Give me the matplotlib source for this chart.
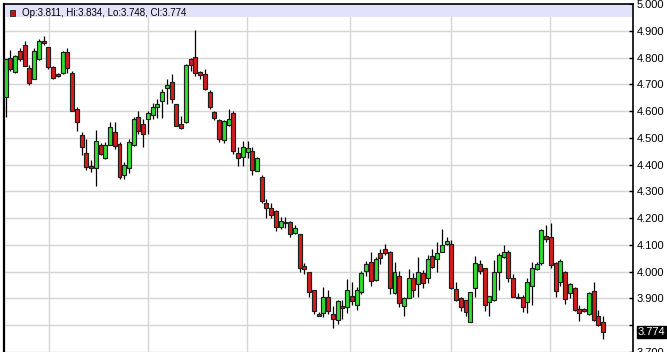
import matplotlib
matplotlib.use("Agg")
import matplotlib.pyplot as plt
import matplotlib.transforms as mtransforms
from matplotlib.patches import Rectangle

plt.rcParams['font.family'] = ['Liberation Sans', 'DejaVu Sans']

# daily OHLC (oldest first)
opens = [4.651, 4.799, 4.746, 4.823, 4.846, 4.762, 4.721, 4.793, 4.860, 4.838,
         4.764, 4.740, 4.743, 4.821, 4.743, 4.607, 4.509, 4.443, 4.396, 4.388,
         4.472, 4.425, 4.475, 4.523, 4.478, 4.360, 4.388, 4.472, 4.577, 4.552,
         4.570, 4.585, 4.614, 4.636, 4.688, 4.710, 4.626, 4.552, 4.558, 4.795,
         4.802, 4.746, 4.738, 4.672, 4.596, 4.565, 4.491, 4.549, 4.594, 4.444,
         4.427, 4.446, 4.452, 4.378, 4.352, 4.257, 4.238, 4.226, 4.167, 4.185,
         4.186, 4.143, 4.142, 4.023, 3.998, 3.930, 3.841, 3.846, 3.905, 3.843,
         3.819, 3.870, 3.868, 3.911, 3.874, 3.926, 4.001, 4.037, 3.969, 4.068,
         4.084, 4.074, 3.920, 3.985, 3.870, 3.901, 3.978, 3.953, 3.994, 3.975,
         4.059, 4.046, 4.074, 4.104, 4.104, 3.936, 3.901, 3.893, 3.812, 3.938,
         4.030, 4.012, 3.886, 3.895, 3.998, 4.056, 4.072, 3.975, 3.907, 3.907,
         3.886, 3.948, 4.009, 4.031, 4.133, 4.130, 4.031, 3.960, 4.000, 3.920,
         3.938, 3.862, 3.860, 3.842, 3.928, 3.833, 3.811]
highs = [4.796, 4.830, 4.811, 4.836, 4.860, 4.772, 4.836, 4.870, 4.881, 4.839,
         4.768, 4.743, 4.823, 4.836, 4.749, 4.617, 4.523, 4.494, 4.416, 4.530,
         4.481, 4.484, 4.558, 4.560, 4.484, 4.410, 4.494, 4.577, 4.601, 4.570,
         4.601, 4.632, 4.644, 4.681, 4.718, 4.737, 4.628, 4.583, 4.774, 4.800,
         4.904, 4.750, 4.756, 4.680, 4.600, 4.570, 4.565, 4.609, 4.602, 4.467,
         4.489, 4.490, 4.467, 4.430, 4.362, 4.273, 4.257, 4.230, 4.205, 4.205,
         4.189, 4.174, 4.142, 4.034, 4.000, 3.933, 3.850, 3.942, 3.930, 3.872,
         3.895, 3.895, 3.973, 3.960, 3.942, 4.004, 4.040, 4.072, 4.056, 4.084,
         4.102, 4.078, 4.038, 4.004, 3.907, 4.010, 3.994, 4.055, 4.006, 4.064,
         4.086, 4.112, 4.161, 4.129, 4.118, 3.963, 3.907, 3.896, 3.926, 4.058,
         4.044, 4.012, 3.911, 4.044, 4.068, 4.101, 4.081, 3.990, 3.919, 3.913,
         3.976, 4.037, 4.037, 4.160, 4.175, 4.182, 4.037, 4.046, 4.003, 3.957,
         3.944, 3.874, 3.863, 3.925, 3.963, 3.857, 3.834]
lows = [4.577, 4.749, 4.743, 4.787, 4.768, 4.698, 4.719, 4.790, 4.848, 4.758,
        4.721, 4.728, 4.740, 4.743, 4.599, 4.527, 4.435, 4.379, 4.373, 4.320,
        4.435, 4.422, 4.472, 4.459, 4.346, 4.348, 4.367, 4.469, 4.515, 4.465,
        4.515, 4.570, 4.574, 4.574, 4.626, 4.632, 4.544, 4.533, 4.556, 4.749,
        4.731, 4.719, 4.679, 4.607, 4.565, 4.483, 4.479, 4.545, 4.440, 4.393,
        4.393, 4.426, 4.362, 4.375, 4.257, 4.201, 4.201, 4.152, 4.160, 4.162,
        4.129, 4.140, 3.998, 3.990, 3.905, 3.843, 3.833, 3.832, 3.843, 3.788,
        3.804, 3.825, 3.846, 3.874, 3.856, 3.917, 3.984, 3.948, 3.967, 4.027,
        4.064, 3.917, 3.917, 3.868, 3.833, 3.901, 3.907, 3.904, 3.938, 3.957,
        4.012, 3.998, 4.074, 4.101, 3.936, 3.889, 3.855, 3.833, 3.812, 3.907,
        3.993, 3.855, 3.833, 3.891, 3.932, 4.052, 3.963, 3.904, 3.901, 3.849,
        3.846, 3.874, 4.006, 4.025, 4.112, 4.013, 3.907, 3.948, 3.880, 3.901,
        3.852, 3.817, 3.850, 3.838, 3.817, 3.796, 3.748]
closes = [4.793, 4.758, 4.805, 4.793, 4.770, 4.706, 4.823, 4.860, 4.854, 4.765,
          4.725, 4.731, 4.821, 4.762, 4.599, 4.558, 4.465, 4.391, 4.389, 4.490,
          4.441, 4.475, 4.542, 4.469, 4.354, 4.398, 4.484, 4.570, 4.527, 4.515,
          4.591, 4.614, 4.628, 4.673, 4.698, 4.644, 4.546, 4.536, 4.772, 4.772,
          4.741, 4.733, 4.684, 4.617, 4.574, 4.495, 4.562, 4.572, 4.451, 4.423,
          4.467, 4.463, 4.380, 4.426, 4.263, 4.238, 4.211, 4.167, 4.189, 4.183,
          4.139, 4.164, 4.014, 4.010, 3.926, 3.852, 3.835, 3.905, 3.852, 3.825,
          3.889, 3.863, 3.930, 3.889, 3.930, 3.994, 4.028, 3.967, 4.047, 4.053,
          4.069, 3.940, 4.000, 3.883, 3.901, 3.978, 3.932, 4.000, 3.957, 4.047,
          4.019, 4.068, 4.101, 4.115, 3.938, 3.895, 3.867, 3.848, 3.926, 4.033,
          4.002, 3.874, 3.911, 3.998, 4.062, 4.074, 3.975, 3.904, 3.901, 3.867,
          3.963, 4.015, 4.028, 4.154, 4.121, 4.025, 3.928, 4.040, 3.899, 3.953,
          3.858, 3.846, 3.855, 3.921, 3.820, 3.799, 3.774]

price_ticks = [3.7, 3.8, 3.9, 4.0, 4.1, 4.2, 4.3, 4.4, 4.5, 4.6, 4.7, 4.8, 4.9, 5.0]
month_lines = [9.1, 30.0, 50.9, 72.6, 93.9, 114.8]   # vertical grid, in bar index
last_label = "3.774"
header = "Op:3.811, Hi:3.834, Lo:3.748, Cl:3.774"

up_color = '#2fe02f'
down_color = '#d81c1c'
edge = '#1e1e1e'

fig = plt.figure(figsize=(6.67, 3.52), dpi=100)
ax = fig.add_axes([4 / 667, 0, 629 / 667, 348 / 352])

n = len(opens)
xs = list(range(n))
bottoms = [min(o, c) for o, c in zip(opens, closes)]
heights = [max(abs(c - o), 0.003) for o, c in zip(opens, closes)]
colors = [up_color if c >= o else down_color for o, c in zip(opens, closes)]

ax.vlines(xs, lows, highs, color='black', lw=0.9, zorder=3)
ax.bar(xs, heights, bottom=bottoms, width=0.84, color=colors,
       edgecolor=edge, linewidth=0.85, zorder=4)

ax.set_xlim(-0.36, 132.3)
ax.set_ylim(3.7111, 5.0)

ax.set_xticks(month_lines)
ax.set_xticklabels([])
ax.tick_params(axis='x', length=0)
ax.yaxis.tick_right()
ax.set_yticks(price_ticks)
ax.set_yticklabels(['' if abs(t - 3.8) < 1e-9 else f"{t:.3f}" for t in price_ticks])
ax.tick_params(axis='y', direction='in', length=3, width=1, color='black',
               labelsize=8, pad=2.5, labelcolor='black')
ax.grid(True, color='#d6d6d6', lw=1, zorder=0)
ax.set_axisbelow(True)

for side in ['left', 'top', 'right']:
    ax.spines[side].set_color('black')
ax.spines['left'].set_linewidth(1.6)
ax.spines['top'].set_linewidth(1.2)
ax.spines['right'].set_linewidth(1.2)
ax.spines['bottom'].set_visible(False)

# header band with last bar values
fig.add_artist(Rectangle((5 / 667, 335 / 352), 627 / 667, 12 / 352,
                         transform=fig.transFigure, facecolor='#e2e2fa',
                         edgecolor='none', zorder=5))
fig.add_artist(Rectangle((9.5 / 667, 336 / 352), 6 / 667, 6.5 / 352,
                         transform=fig.transFigure, facecolor='#cc1111',
                         edgecolor='#222222', lw=0.6, zorder=6))
fig.text(22 / 667, 339.3 / 352, header, fontsize=7.0, va='center', ha='left',
         color='black', zorder=7)

# last price marker on the axis
trans = mtransforms.blended_transform_factory(ax.transAxes, ax.transData)
ax.text(1.0075, closes[-1], last_label, transform=trans, fontsize=8,
        color='white', va='center', ha='left', clip_on=False,
        bbox=dict(facecolor='black', edgecolor='black', pad=0.8))

fig.savefig("out.png", dpi=100)
